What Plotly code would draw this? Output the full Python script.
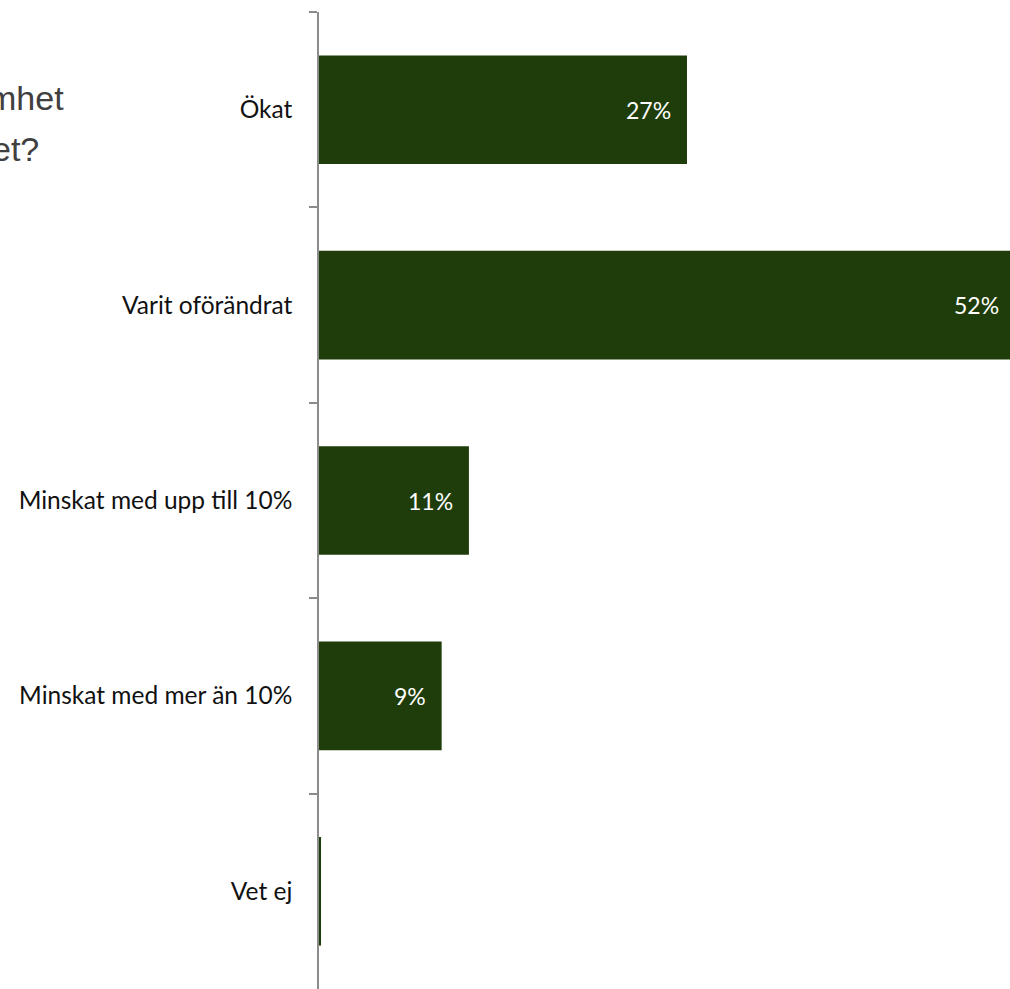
import plotly.graph_objects as go

categories = ["Ökat", "Varit oförändrat", "Minskat med upp till 10%", "Minskat med mer än 10%", "Vet ej"]
values = [27, 52, 11, 9, 0.15]
value_labels = ["27%", "52%", "11%", "9%", ""]
title_fragments = ["mhet", "et?"]

XMAX = 50.7
BAR_COLOR = "#1f3d0a"
LABEL_FONT = "Lato, 'Noto Sans', sans-serif"
TITLE_FONT = "'Liberation Sans', Arial, sans-serif"

fig = go.Figure()
fig.add_trace(go.Bar(
    x=values,
    y=categories,
    orientation="h",
    marker=dict(color=BAR_COLOR, line=dict(width=0)),
    hoverinfo="skip",
))

for cat, v, lab in zip(categories, values, value_labels):
    if not lab:
        continue
    fig.add_annotation(
        x=min(v, XMAX), y=cat, xref="x", yref="y",
        text=lab, showarrow=False, xanchor="right", yanchor="middle",
        xshift=-14 if v < XMAX else -9,
        font=dict(family=LABEL_FONT, size=23, color="white"),
    )

# partially visible title at the left edge (cut off as in the reference)
fig.add_annotation(x=(66 - 319) / 691, y=1 - (98 - 12) / 977, xref="paper", yref="paper",
                   text=title_fragments[0], showarrow=False, xanchor="right", yanchor="middle",
                   font=dict(family=TITLE_FONT, size=34, color="#404040"))
fig.add_annotation(x=(41 - 319) / 691, y=1 - (149 - 12) / 977, xref="paper", yref="paper",
                   text=title_fragments[1], showarrow=False, xanchor="right", yanchor="middle",
                   font=dict(family=TITLE_FONT, size=34, color="#404040"))

fig.update_layout(
    width=1010, height=989,
    margin=dict(l=319, r=0, t=12, b=0),
    paper_bgcolor="white", plot_bgcolor="white",
    showlegend=False,
    bargap=0.444,
    xaxis=dict(range=[0, XMAX], visible=False, fixedrange=True),
    yaxis=dict(
        categoryorder="array", categoryarray=categories,
        autorange="reversed",
        showline=True, linecolor="#8c8c8c", linewidth=1.5,
        ticks="outside", ticklen=8, tickcolor="#8c8c8c", tickwidth=1.5,
        tickson="boundaries",
        showgrid=False, zeroline=False,
        ticklabelstandoff=20,
        tickfont=dict(family=LABEL_FONT, size=24.5, color="#111111"),
        fixedrange=True,
    ),
)

fig.write_html(
    "out.html",
    config={"displayModeBar": False},
    post_script="document.body.style.margin='0';document.body.style.overflow='hidden';",
)
